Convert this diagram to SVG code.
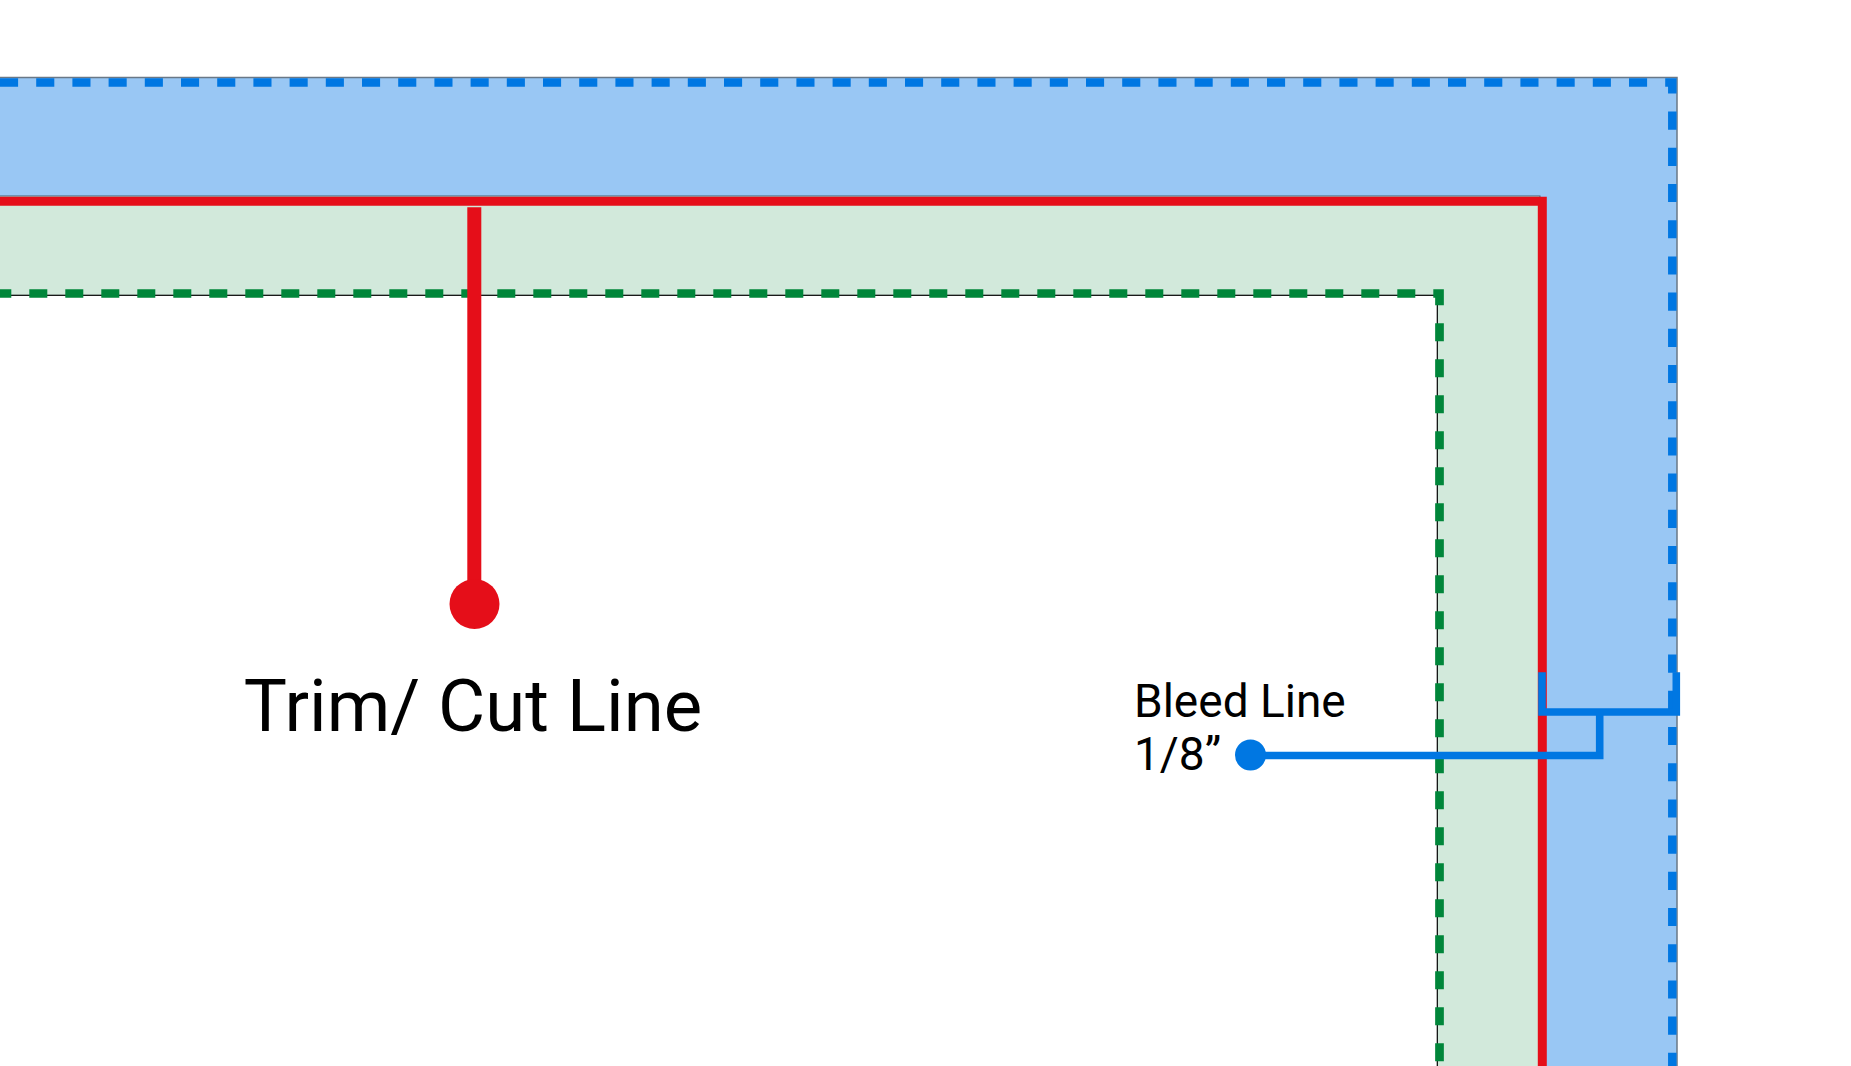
<svg xmlns="http://www.w3.org/2000/svg" width="1851" height="1066" viewBox="0 0 1851 1066">
<style>
.lbl{font-family:Roboto,"Liberation Sans",sans-serif;fill:#000}
.bdash{fill:none;stroke:#0077E2;stroke-width:8.5;stroke-dasharray:18.1 18.1}
.gdash{fill:none;stroke:#00863A;stroke-width:8.7;stroke-dasharray:18 18}
.red{fill:none;stroke:#E50E19}
.blue{fill:none;stroke:#0077E2;stroke-width:7.6}
</style>
<rect width="1851" height="1066" fill="#fff"/>
<g id="bleed-area">
<rect x="-10" y="77.5" width="1687" height="1000" fill="#99C7F4" stroke="#6A7886" stroke-width="1.5"/>
<path class="bdash" d="M0 82.5 H1672.3 V1076"/>
</g>
<g id="safe-area">
<rect x="-10" y="196" width="1550" height="900" fill="#D2E9DB" stroke="#4A6070" stroke-width="1"/>
<rect x="-10" y="295.3" width="1447.3" height="800" fill="#fff" stroke="#000" stroke-width="1.2"/>
<path class="gdash" d="M-6.7 293.5 H1439.5 V1076"/>
</g>
<g id="trim-line">
<path class="red" stroke-width="9" d="M-10 201.2 H1542.3 V1076"/>
</g>
<g id="connectors">
<path class="red" stroke-width="14" d="M474.3 207.3 V604"/>
<circle cx="474.5" cy="604" r="25" fill="#E50E19"/>
<path class="blue" d="M1542 672.3 V712 H1676.3 V672.3"/>
<path class="blue" d="M1599.7 712 V755.5 H1250.5"/>
<circle cx="1250.5" cy="755" r="15.5" fill="#0077E2"/>
</g>
<g id="labels">
<text class="lbl" x="473" y="730.5" font-size="72.5" text-anchor="middle">Trim/ Cut Line</text>
<text class="lbl" x="1134" y="716.5" font-size="46">Bleed Line</text>
<text class="lbl" x="1134" y="769.5" font-size="46">1/8”</text>
</g>
</svg>
